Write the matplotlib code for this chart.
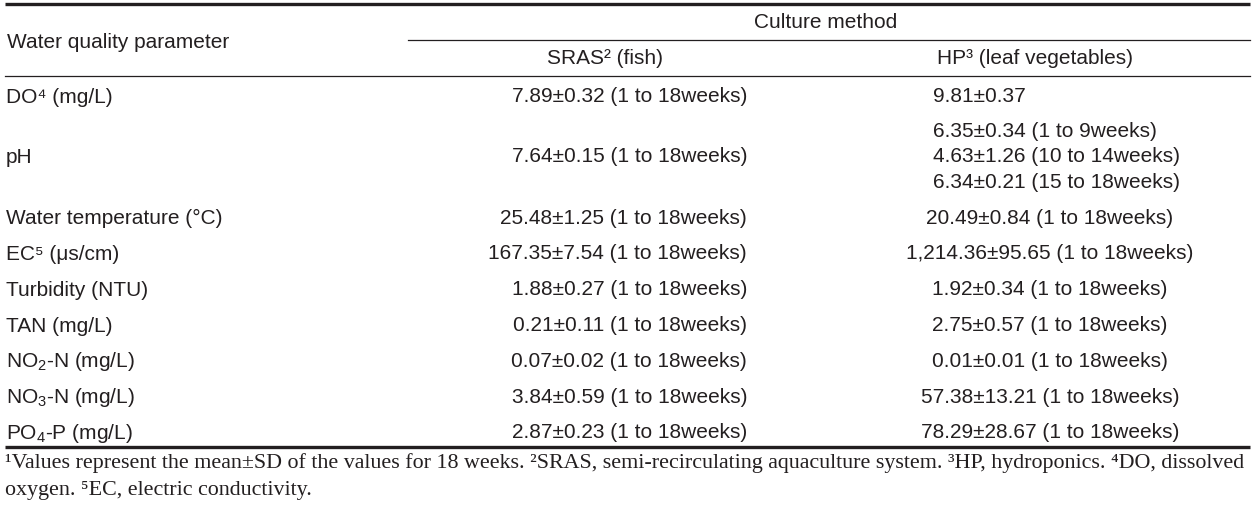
import matplotlib.pyplot as plt

plt.rcParams['font.family'] = ['Liberation Sans', 'DejaVu Sans']
plt.rcParams['mathtext.fontset'] = 'custom'
plt.rcParams['mathtext.rm'] = 'Liberation Sans'
plt.rcParams['mathtext.it'] = 'Liberation Sans:italic'
plt.rcParams['mathtext.bf'] = 'Liberation Sans:bold'

# 表のデータ
parameters = ["DO⁴ (mg/L)", "pH", "Water temperature (°C)", "EC⁵ (μs/cm)",
              "Turbidity (NTU)", "TAN (mg/L)", r"NO$_\mathregular{2}$-N (mg/L)",
              r"NO$_\mathregular{3}$-N (mg/L)", r"PO$_\mathregular{4}$-P (mg/L)"]
sras = ["7.89±0.32 (1 to 18weeks)", "7.64±0.15 (1 to 18weeks)",
        "25.48±1.25 (1 to 18weeks)", "167.35±7.54 (1 to 18weeks)",
        "1.88±0.27 (1 to 18weeks)", "0.21±0.11 (1 to 18weeks)",
        "0.07±0.02 (1 to 18weeks)", "3.84±0.59 (1 to 18weeks)",
        "2.87±0.23 (1 to 18weeks)"]
hp = [["9.81±0.37"],
      ["6.35±0.34 (1 to 9weeks)", "4.63±1.26 (10 to 14weeks)", "6.34±0.21 (15 to 18weeks)"],
      ["20.49±0.84 (1 to 18weeks)"], ["1,214.36±95.65 (1 to 18weeks)"],
      ["1.92±0.34 (1 to 18weeks)"], ["2.75±0.57 (1 to 18weeks)"],
      ["0.01±0.01 (1 to 18weeks)"], ["57.38±13.21 (1 to 18weeks)"],
      ["78.29±28.67 (1 to 18weeks)"]]
group_header = "Culture method"
col_headers = ["Water quality parameter", "SRAS² (fish)", "HP³ (leaf vegetables)"]
footnotes = ["¹Values represent the mean±SD of the values for 18 weeks. ²SRAS, semi-recirculating "
             "aquaculture system. ³HP, hydroponics. ⁴DO, dissolved",
             "oxygen. ⁵EC, electric conductivity."]

W, H = 1255, 511
col = '#231F20'
fs = 15

fig = plt.figure(figsize=(W / 100, H / 100), dpi=100)
ax = fig.add_axes([0, 0, 1, 1])
ax.set_xlim(0, W)
ax.set_ylim(H, 0)
ax.axis('off')

# 罫線
ax.plot([5, 1250], [4, 4], color=col, lw=2.4, solid_capstyle='butt')
ax.plot([408, 1250], [40, 40], color=col, lw=0.9)
ax.plot([5, 1250], [76, 76], color=col, lw=0.9)
ax.plot([5, 1250], [447, 447], color=col, lw=2.4, solid_capstyle='butt')

# ヘッダ
ax.text(826, 23, group_header, fontsize=fs, color=col, ha='center', va='center')
ax.text(7, 42, col_headers[0], fontsize=fs, color=col, ha='left', va='center')
ax.text(605, 59, col_headers[1], fontsize=fs, color=col, ha='center', va='center')
ax.text(1035, 59, col_headers[2], fontsize=fs, color=col, ha='center', va='center')

# 本体（行ごとに y を進める）
line_h = 25.5
row_gap = 35.8
y = 97
for i, p in enumerate(parameters):
    lines = hp[i]
    n = len(lines)
    if i > 0:
        y += row_gap + (n - 1) * line_h / 2 + (len(hp[i - 1]) - 1) * line_h / 2
        if i == 1:
            y -= 1.5
    ax.text(6, y + 6, p, fontsize=fs, color=col, ha='left', va='baseline')
    ax.text(747, y, sras[i], fontsize=fs, color=col, ha='right', va='center')
    for k, s in enumerate(lines):
        yy = y + (k - (n - 1) / 2) * line_h
        if i < 2:
            ax.text(933, yy, s, fontsize=fs, color=col, ha='left', va='center')
        else:
            ax.text(1050, yy, s, fontsize=fs, color=col, ha='center', va='center')

# 脚注
for j, s in enumerate(footnotes):
    ax.text(5, 463 + j * 28, s, fontsize=15.8, color=col, ha='left', va='center',
            family=['Liberation Serif', 'DejaVu Serif'])

plt.savefig('out.png', dpi=100)
